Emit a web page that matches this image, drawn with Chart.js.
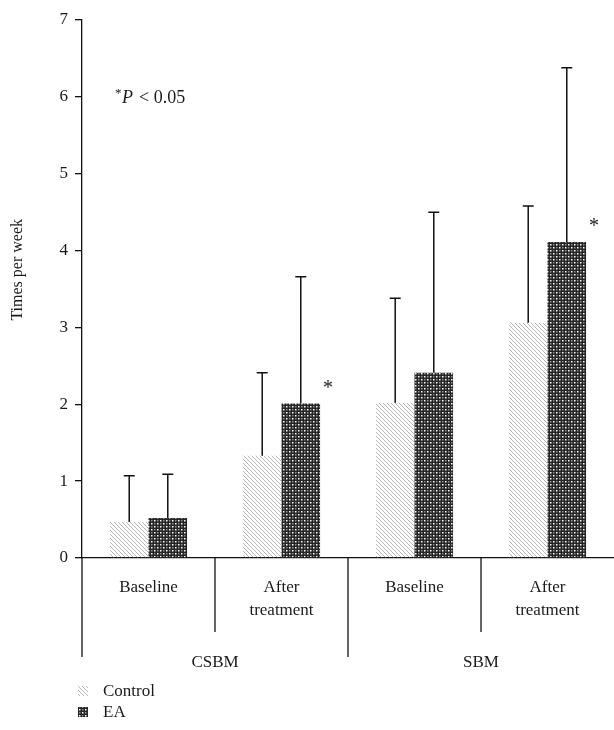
<!DOCTYPE html>
<html>
<head>
<meta charset="utf-8">
<script src="https://cdn.jsdelivr.net/npm/chart.js@4.4.1/dist/chart.umd.min.js"></script>
<style>
  body { margin: 0; background: #fff; }
  #wrap { width: 614px; height: 730px; }
</style>
</head>
<body>
<div id="wrap"><canvas id="chart" width="614" height="730"></canvas></div>
<script>
// data
const groups = ["CSBM", "SBM"];
const categories = [["Baseline"], ["After", "treatment"], ["Baseline"], ["After", "treatment"]];
const controlMeans = [0.47, 1.33, 2.02, 3.06];
const controlUpper = [1.07, 2.41, 3.38, 4.58];
const eaMeans = [0.52, 2.01, 2.41, 4.11];
const eaUpper = [1.09, 3.66, 4.50, 6.38];
const eaSignificant = [false, true, false, true];
const yTicks = [0, 1, 2, 3, 4, 5, 6, 7];

const SERIF = '"Liberation Serif", "DejaVu Serif", serif';
const INK = "#1a1a1a";

// hatch for Control, dotted dark for EA
const makeHatch = () => {
  const c = document.createElement("canvas");
  c.width = 4; c.height = 4;
  const g = c.getContext("2d");
  g.strokeStyle = "#b4b4b4";
  g.lineWidth = 1;
  g.beginPath();
  g.moveTo(0, 0); g.lineTo(4, 4);
  g.moveTo(-2, 2); g.lineTo(2, 6);
  g.moveTo(2, -2); g.lineTo(6, 2);
  g.stroke();
  return g.createPattern(c, "repeat");
};

const makeDots = () => {
  const c = document.createElement("canvas");
  c.width = 6; c.height = 6;
  const g = c.getContext("2d");
  g.fillStyle = "#252525";
  g.fillRect(0, 0, 6, 6);
  g.fillStyle = "#ffffff";
  g.fillRect(1, 1, 1.5, 1.5);
  g.fillRect(4, 4, 1.5, 1.5);
  g.fillStyle = "#8c8c8c";
  g.fillRect(4, 1, 1.5, 1.5);
  g.fillRect(1, 4, 1.5, 1.5);
  return g.createPattern(c, "repeat");
};

const hatch = makeHatch();
const dots = makeDots();
const uppers = [controlUpper, eaUpper];

const extras = {
  id: "extras",
  afterDatasetsDraw(chart) {
    const { ctx, scales: { x, y }, chartArea } = chart;
    ctx.save();

    // error bars (upper only)
    chart.data.datasets.forEach((ds, di) => {
      chart.getDatasetMeta(di).data.forEach((bar, i) => {
        const top = y.getPixelForValue(uppers[di][i]);
        ctx.strokeStyle = "#111";
        ctx.lineWidth = 1.5;
        ctx.beginPath();
        ctx.moveTo(bar.x, bar.y);
        ctx.lineTo(bar.x, top);
        ctx.moveTo(bar.x - 5.5, top);
        ctx.lineTo(bar.x + 5.5, top);
        ctx.stroke();
      });
    });

    // significance stars
    ctx.fillStyle = INK;
    ctx.font = "20px " + SERIF;
    ctx.textAlign = "center";
    ctx.textBaseline = "middle";
    chart.getDatasetMeta(1).data.forEach((bar, i) => {
      if (eaSignificant[i]) ctx.fillText("*", bar.x + bar.width / 2 + 8, bar.y - 15);
    });

    // y-axis title
    ctx.save();
    ctx.translate(18, y.getPixelForValue(3.75));
    ctx.rotate(-Math.PI / 2);
    ctx.font = "16px " + SERIF;
    ctx.fillText("Times per week", 0, 0);
    ctx.restore();

    // dividers and group labels below the axis
    const step = (chartArea.right - chartArea.left) / categories.length;
    ctx.strokeStyle = "#111";
    ctx.lineWidth = 1.3;
    for (let i = 0; i < categories.length; i++) {
      const bx = x.getPixelForValue(i) - step / 2;
      const long = i % 2 === 0;
      ctx.beginPath();
      ctx.moveTo(bx, chartArea.bottom);
      ctx.lineTo(bx, chartArea.bottom + (long ? 99 : 74));
      ctx.stroke();
    }
    ctx.font = "17px " + SERIF;
    groups.forEach((g, gi) => {
      const gx = (x.getPixelForValue(gi * 2) + x.getPixelForValue(gi * 2 + 1)) / 2;
      ctx.fillText(g, gx, chartArea.bottom + 105);
    });

    // p-value note
    ctx.textAlign = "left";
    ctx.textBaseline = "alphabetic";
    const nx = x.left + 33, ny = y.getPixelForValue(6) + 6;
    ctx.font = "13px " + SERIF;
    ctx.fillText("*", nx, ny - 6);
    ctx.font = "italic 18px " + SERIF;
    ctx.fillText("P", nx + 7, ny);
    ctx.font = "18px " + SERIF;
    ctx.fillText("< 0.05", nx + 24, ny);

    // legend
    const lx = 78;
    [["Control", hatch], ["EA", dots]].forEach(([name, fill], k) => {
      const ly = 686 + k * 21;
      ctx.fillStyle = fill;
      ctx.fillRect(lx, ly, 10, 10);
      ctx.fillStyle = INK;
      ctx.font = "17px " + SERIF;
      ctx.textBaseline = "middle";
      ctx.fillText(name, lx + 25, ly + 6);
    });

    ctx.restore();
  }
};

new Chart(document.getElementById("chart"), {
  type: "bar",
  data: {
    labels: categories,
    datasets: [
      { label: "Control", data: controlMeans, backgroundColor: hatch, borderWidth: 0 },
      { label: "EA", data: eaMeans, backgroundColor: dots, borderWidth: 0 }
    ]
  },
  options: {
    responsive: false,
    animation: false,
    layout: { padding: { top: 20, right: 0, left: 0, bottom: 0 } },
    datasets: { bar: { categoryPercentage: 0.58, barPercentage: 1.0 } },
    plugins: { legend: { display: false }, tooltip: { enabled: false } },
    scales: {
      x: {
        grid: { display: false },
        border: { display: true, color: "#111", width: 1.3 },
        ticks: {
          color: INK,
          padding: 10,
          maxRotation: 0,
          font: { family: SERIF, size: 17, lineHeight: 1.35 }
        },
        afterFit: (scale) => { scale.height = 172; }
      },
      y: {
        min: 0,
        max: 7,
        afterBuildTicks: (scale) => { scale.ticks = yTicks.map((v) => ({ value: v })); },
        grid: { drawOnChartArea: false, drawTicks: true, tickLength: 7, color: "#111", lineWidth: 1.3 },
        border: { display: true, color: "#111", width: 1.3 },
        ticks: { color: INK, padding: 7, font: { family: SERIF, size: 17 } },
        afterFit: (scale) => { scale.width = 82; }
      }
    }
  },
  plugins: [extras]
});
</script>
</body>
</html>
